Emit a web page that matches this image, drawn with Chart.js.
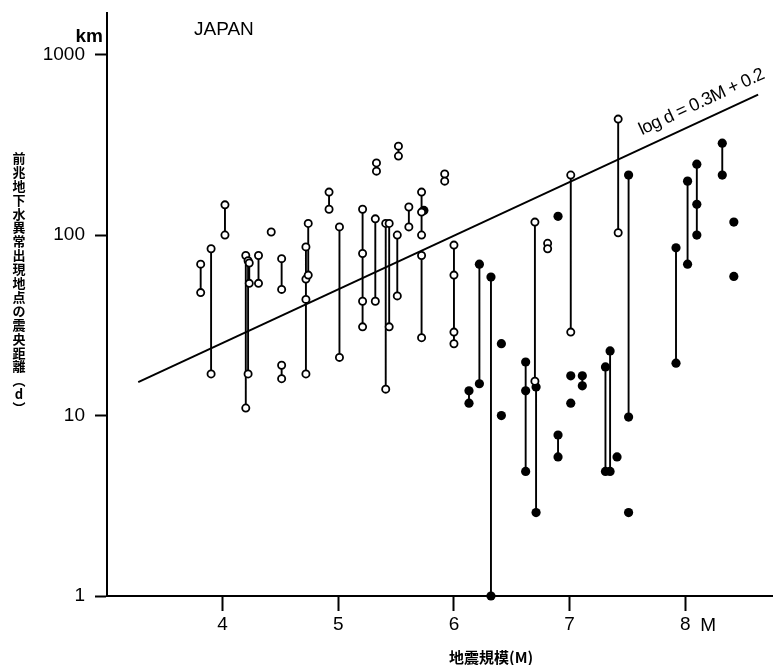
<!DOCTYPE html>
<html>
<head>
<meta charset="utf-8">
<script src="https://cdn.jsdelivr.net/npm/chart.js@4"></script>
<style>body{margin:0;background:#fff}</style>
</head>
<body>
<canvas id="chart" width="781" height="665"></canvas>
<script>
// open circles: magnitude and the distances (km) read at that magnitude
const openM = [3.81, 3.9, 4.02, 4.2, 4.22, 4.23, 4.31, 4.42, 4.51, 4.51, 4.72, 4.74, 4.92, 5.01, 5.21,
  5.32, 5.33, 5.41, 5.44, 5.51, 5.52, 5.61, 5.72, 5.72, 5.92, 6.0, 6.7, 6.81, 7.01, 7.42];
const openD = [[69, 48], [84, 17], [147, 100], [77, 11], [72, 17], [70, 54], [77, 54], [104], [74, 50], [19, 16],
  [86, 57, 44, 17], [116, 60], [173, 139], [111, 21], [139, 79, 43, 31],
  [123, 43], [251, 226], [116, 14], [116, 31], [100, 46], [311, 274], [143, 111], [173, 134, 100], [77, 27],
  [218, 199], [88, 60, 29, 25], [118, 15.5], [90, 84], [215, 29], [439, 103]];

// filled dots
const filledM = [5.74, 6.13, 6.22, 6.32, 6.41, 6.41, 6.62, 6.71, 6.9, 6.9, 7.01, 7.01, 7.11, 7.31, 7.35,
  7.41, 7.51, 7.51, 7.92, 8.02, 8.1, 8.32, 8.42, 8.42];
const filledD = [[137], [13.7, 11.7], [69, 15], [58.5, 1], [25], [10], [19.8, 13.7, 4.9], [14.4, 2.9], [127], [7.8, 5.9],
  [16.6], [11.7], [16.6, 14.6], [18.6, 4.9], [22.8, 4.9],
  [5.9], [215, 9.8], [2.9], [85, 19.5], [199, 69], [247, 148, 100], [323, 215], [118], [59]];

// log d = 0.3M + 0.2, ends
const fitM = [3.27, 8.63];
const fitD = [15.3, 600];

const xTicks = [4, 5, 6, 7, 8];
const yTicks = [1, 10, 100, 1000];

Chart.defaults.font.family = '"Liberation Sans", Arial, sans-serif';
Chart.defaults.color = '#000';

function stems(ms, ds) {
  const out = [];
  ms.forEach((m, i) => {
    const d = ds[i];
    if (d.length < 2) return;
    out.push({x: m, y: Math.max(...d)}, {x: m, y: Math.min(...d)}, {x: m, y: null});
  });
  return out;
}
function dots(ms, ds) {
  const out = [];
  ms.forEach((m, i) => ds[i].forEach(v => out.push({x: m, y: v})));
  return out;
}

const texts = {
  id: 'texts',
  afterDraw(chart) {
    const {ctx, scales: {x, y}} = chart;
    ctx.save();
    ctx.fillStyle = '#000';

    ctx.font = 'bold 19px "Liberation Sans"';
    ctx.textAlign = 'right';
    ctx.textBaseline = 'alphabetic';
    ctx.fillText('km', 103, 42);

    ctx.font = '19px "Liberation Sans"';
    ctx.textAlign = 'left';
    ctx.fillText('JAPAN', 194, 35);

    // "M" after the 8 tick
    ctx.textBaseline = 'middle';
    ctx.fillText('M', x.getPixelForValue(8) + 15, 626);

    // equation along the fitted line
    const x1 = x.getPixelForValue(fitM[0]), y1 = y.getPixelForValue(fitD[0]);
    const x2 = x.getPixelForValue(fitM[1]), y2 = y.getPixelForValue(fitD[1]);
    const a = Math.atan2(y2 - y1, x2 - x1);
    const t = (647 - x1) / (x2 - x1);
    const px = x1 + t * (x2 - x1), py = y1 + t * (y2 - y1);
    ctx.translate(px + 12 * Math.sin(a), py - 12 * Math.cos(a));
    ctx.rotate(a);
    ctx.font = '18px "Liberation Sans"';
    ctx.letterSpacing = '-0.5px';
    ctx.textBaseline = 'alphabetic';
    ctx.fillText('log d = 0.3M + 0.2', 0, 0);
    ctx.restore();

    ctx.save();
    ctx.fillStyle = '#000';
    ctx.font = 'bold 13px "Noto Sans CJK JP"';
    ctx.textAlign = 'center';
    ctx.textBaseline = 'middle';
    const chars = ['前', '兆', '地', '下', '水', '異', '常', '出', '現', '地', '点', 'の', '震', '央', '距', '離', '︵', 'd', '︶'];
    chars.forEach((c, i) => ctx.fillText(c, 19, 158 + i * 13.9));

    ctx.font = 'bold 15px "Noto Sans CJK JP"';
    ctx.textAlign = 'left';
    ctx.textBaseline = 'alphabetic';
    ctx.fillText('地震規模(M)', 449, 663);
    ctx.restore();
  }
};

new Chart(document.getElementById('chart'), {
  type: 'scatter',
  data: {
    datasets: [
      {
        data: dots(openM, openD),
        pointRadius: 3.6,
        pointBorderWidth: 1.8,
        pointBackgroundColor: '#fff',
        pointBorderColor: '#000',
        clip: false,
        order: 0
      },
      {
        data: dots(filledM, filledD),
        pointRadius: 4.6,
        pointBorderWidth: 0,
        pointBackgroundColor: '#000',
        pointBorderColor: '#000',
        clip: false,
        order: 0
      },
      {
        data: stems(openM, openD).concat(stems(filledM, filledD)),
        showLine: true,
        spanGaps: false,
        pointRadius: 0,
        borderColor: '#000',
        borderWidth: 1.9,
        order: 2
      },
      {
        data: fitM.map((m, i) => ({x: m, y: fitD[i]})),
        showLine: true,
        pointRadius: 0,
        borderColor: '#000',
        borderWidth: 2,
        order: 3
      }
    ]
  },
  options: {
    responsive: false,
    animation: false,
    layout: {padding: {top: 13, right: 9, left: 0, bottom: 0}},
    plugins: {legend: {display: false}, tooltip: {enabled: false}},
    scales: {
      x: {
        type: 'linear',
        min: 3.0,
        max: 8.75,
        afterFit: s => { s.height = 69; s.paddingLeft = 0; s.paddingRight = 0; },
        afterBuildTicks: s => { s.ticks = xTicks.map(v => ({value: v})); },
        border: {display: true, color: '#000', width: 2},
        grid: {drawOnChartArea: false, drawTicks: true, tickLength: 15, tickColor: '#000', tickWidth: 2},
        ticks: {font: {size: 19}, padding: 2, callback: v => String(v)}
      },
      y: {
        type: 'logarithmic',
        min: 1,
        max: 1700,
        afterFit: s => { s.width = 107; s.paddingTop = 0; s.paddingBottom = 0; },
        afterBuildTicks: s => { s.ticks = yTicks.map(v => ({value: v})); },
        border: {display: true, color: '#000', width: 2},
        grid: {drawOnChartArea: false, drawTicks: true, tickLength: 12, tickColor: '#000', tickWidth: 2},
        ticks: {font: {size: 19}, padding: 10, callback: v => String(v)}
      }
    }
  },
  plugins: [texts]
});
</script>
</body>
</html>
